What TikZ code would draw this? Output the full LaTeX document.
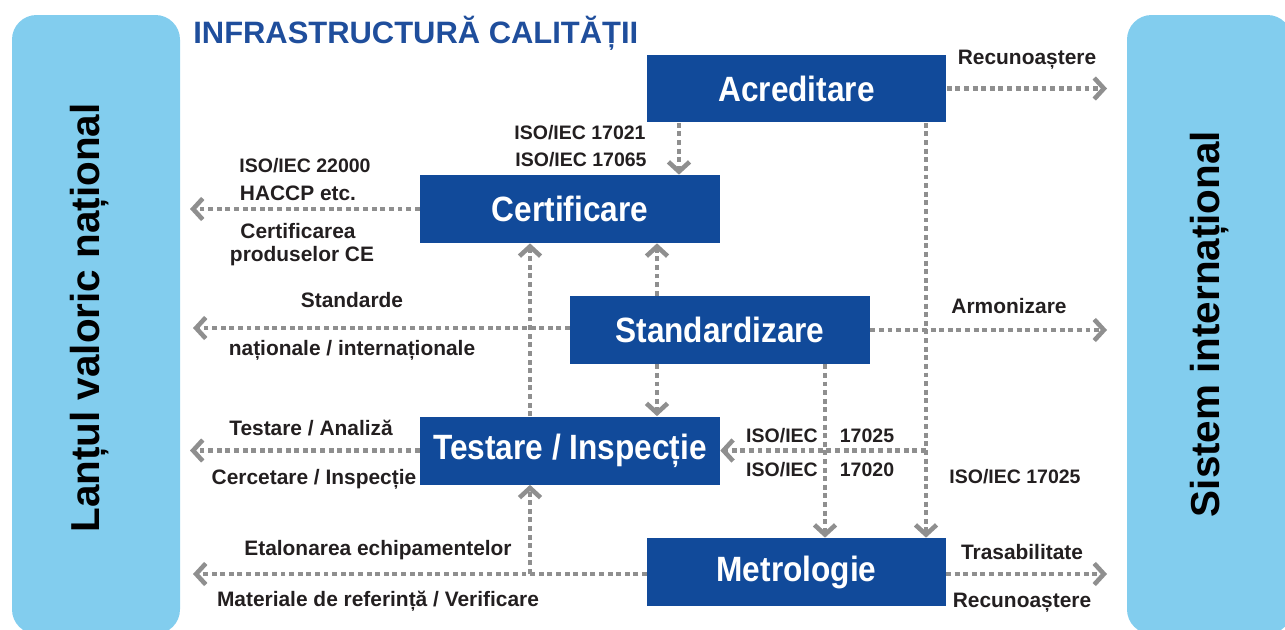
\documentclass[tikz,border=0pt]{standalone}
\usepackage{fontspec}
\setmainfont{Liberation Sans}
\usetikzlibrary{arrows.meta}
\definecolor{panelblue}{HTML}{82CDEE}
\definecolor{boxblue}{HTML}{114A9A}
\definecolor{titleblue}{HTML}{1F4E9C}
\definecolor{arrowgray}{HTML}{8F8F8F}
\definecolor{txt}{HTML}{231F20}
\newcommand{\nb}[1]{\scalebox{0.9}[1]{#1}}
\tikzset{
  panel/.style={fill=panelblue, draw=none, rounded corners=14pt},
  box/.style={fill=boxblue, draw=none, minimum width=6cm, minimum height=1.36cm, inner sep=0pt,
    text=white, font=\fontsize{20}{23}\selectfont\bfseries},
  lbl/.style={text=txt, inner sep=0pt, font=\fontsize{11.9}{13}\selectfont\bfseries},
  isolbl/.style={text=txt, inner sep=0pt, font=\fontsize{11.1}{13}\selectfont\bfseries},
  sidelbl/.style={text=black, inner sep=0pt, rotate=90, font=\fontsize{23}{26}\selectfont\bfseries},
  conn/.style={draw=arrowgray, line width=2.8pt, dash pattern=on 2.8pt off 2.1pt},
  tip/.style={-{Straight Barb[length=5.5pt,width=12pt,line width=2.6pt]}}
}
\begin{document}
\begin{tikzpicture}[x=0.02cm,y=-0.02cm]
\useasboundingbox (0,0) rectangle (1285,629);
% side panels
\fill[panel] (12,15) rectangle (180,634);
\fill[panel] (1127,15) rectangle (1292,634);
\node[sidelbl] (lvn) at (90,318) {Lanțul valoric național};
\node[sidelbl] (si) at (1210,324) {Sistem internațional};
% title
\node[anchor=west, inner sep=0pt, text=titleblue, font=\fontsize{17.6}{20}\selectfont\bfseries] (title) at (193,33) {INFRASTRUCTURĂ CALITĂȚII};
% boxes
\node[box] (acr) at (796.5,88.5) {\nb{Acreditare}};
\node[box] (cer) at (570,209) {\nb{Certificare}};
\node[box] (std) at (720,330) {\nb{Standardizare}};
\node[box] (tes) at (570,450.5) {\nb{Testare / Inspecție}};
\node[box] (met) at (796.5,572) {\nb{Metrologie}};
% free ends
\coordinate (r1) at (1107,88.5);
\coordinate (r2) at (1107,330);
\coordinate (r3) at (1107,574);
\coordinate (l1) at (190,209);
\coordinate (l2) at (193,328);
\coordinate (l3) at (190,450.5);
\coordinate (l4) at (193,574);
\coordinate (j1) at (926,450.5);
\coordinate (j2) at (530,574);
\coordinate (m1) at (647,574);
\coordinate (m2) at (946,574);
\coordinate (s1) at (570,328);
% connectors
\draw[conn,tip] (acr.east) -- (r1);
\draw[conn,tip] (679,0 |- acr.south) -- (679,0 |- cer.north);
\draw[conn,tip] (926,0 |- acr.south) -- (926,0 |- met.north);
\draw[conn,tip] (j1) -- (j1 -| tes.east);
\draw[conn,tip] (cer.west) -- (l1);
\draw[conn,tip] (s1) -- (l2);
\draw[conn,tip] (std.east) -- (r2);
\draw[conn,tip] (657,0 |- std.north) -- (657,0 |- cer.south);
\draw[conn,tip] (530,0 |- tes.north) -- (530,0 |- cer.south);
\draw[conn,tip] (657,0 |- std.south) -- (657,0 |- tes.north);
\draw[conn,tip] (825,0 |- std.south) -- (825,0 |- met.north);
\draw[conn,tip] (tes.west) -- (l3);
\draw[conn,tip] (m1) -- (l4);
\draw[conn,tip] (j2) -- (j2 |- tes.south);
\draw[conn,tip] (m2) -- (r3);
% labels
\node[lbl] (t1) at (1027,60) {Recunoaștere};
\node[isolbl] (t2) at (580,133) {ISO/IEC 17021};
\node[isolbl] (t3) at (581,160) {ISO/IEC 17065};
\node[isolbl] (t4) at (305,166) {ISO/IEC 22000};
\node[lbl] (t5) at (298,193) {HACCP etc.};
\node[lbl] (t6) at (298,231) {Certificarea};
\node[lbl] (t7) at (302,256) {produselor CE};
\node[lbl] (t8) at (352,300) {Standarde};
\node[lbl] (t9) at (352,350) {naționale / internaționale};
\node[lbl] (t10) at (1009,306) {Armonizare};
\node[lbl] (t11) at (311,428) {Testare / Analiză};
\node[lbl] (t12) at (314,479) {Cercetare / Inspecție};
\node[isolbl] (t13) at (782,436) {ISO/IEC};
\node[isolbl] (t14) at (867,436) {17025};
\node[isolbl] (t15) at (782,470) {ISO/IEC};
\node[isolbl] (t16) at (867,470) {17020};
\node[isolbl] (t17) at (1015,477) {ISO/IEC 17025};
\node[lbl] (t18) at (378,550) {Etalonarea echipamentelor};
\node[lbl] (t19) at (378,601) {Materiale de referință / Verificare};
\node[lbl] (t20) at (1022,552) {Trasabilitate};
\node[lbl] (t21) at (1022,603) {Recunoaștere};
\end{tikzpicture}
\end{document}
